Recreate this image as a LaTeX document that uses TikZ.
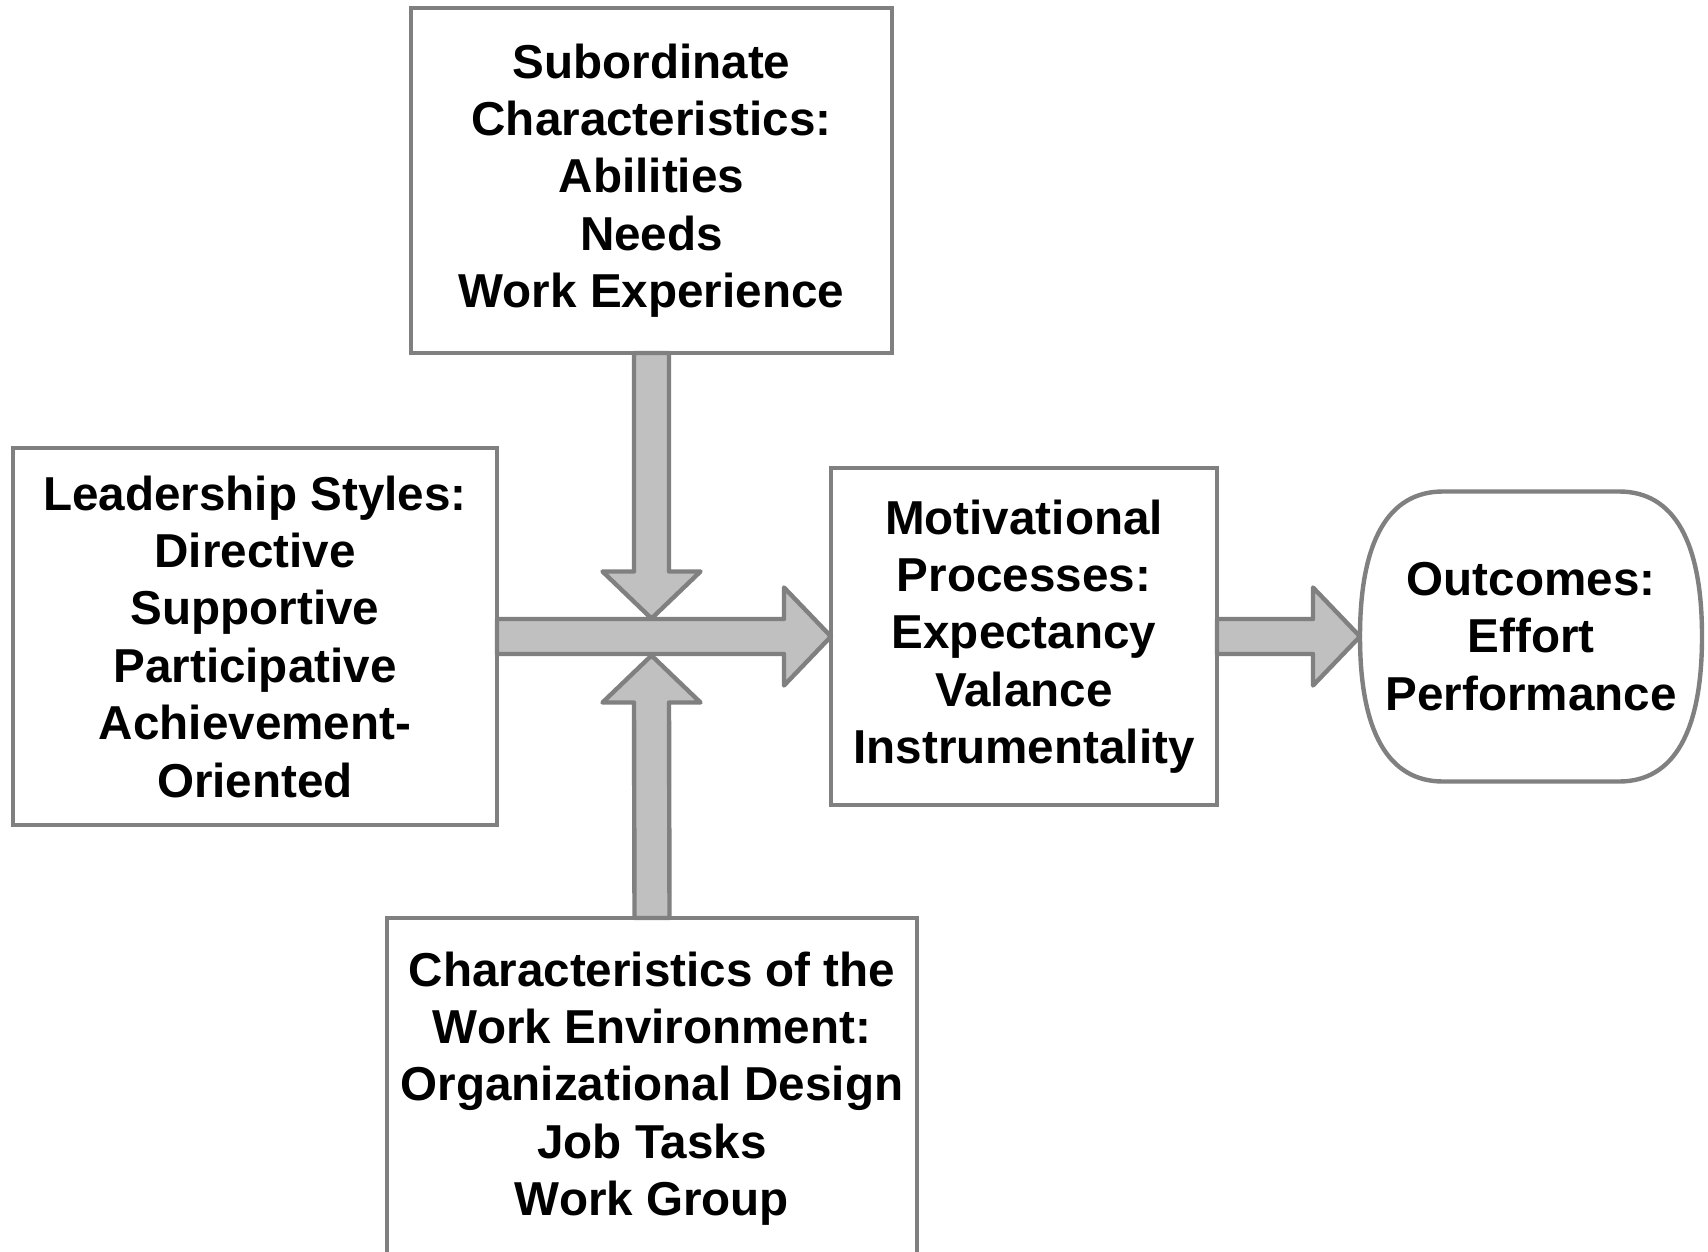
\documentclass[tikz,border=0pt]{standalone}
\usepackage{fontspec}
\setmainfont{Liberation Sans}
\usetikzlibrary{calc}

\definecolor{linegray}{RGB}{128,128,128}
\definecolor{arrowgray}{RGB}{192,192,192}

% half widths and head length of the block arrows
\newcommand{\shaftw}{17.5}
\newcommand{\headw}{49}
\newcommand{\headl}{47}

\begin{document}
\begin{tikzpicture}[
  x=0.5pt, y=-0.5pt,
  every node/.style={font=\bfseries\fontsize{23.8}{28.7}\selectfont, align=center, inner sep=0pt, outer sep=0pt},
  box/.style = {draw=linegray, line width=2.2pt, fill=white},
  roundbox/.style = {draw=linegray, line width=2.2pt},
  fatarrow/.style = {draw=linegray, fill=arrowgray, line width=2.2pt, line join=round}
  ]
	\clip (0,0) rectangle (1708,1252);

	\node[box, minimum width=240.5pt, minimum height=172.5pt] (sub) at (651.5,180.5)
		{Subordinate\\Characteristics:\\Abilities\\Needs\\Work Experience};
	\node[box, minimum width=242pt, minimum height=188.5pt] (lead) at (255,636.5)
		{Leadership Styles:\\Directive\\Supportive\\Participative\\Achievement-\\Oriented};
	\node[box, minimum width=193pt, minimum height=168.5pt] (motiv) at (1024,636.5)
		{Motivational\\Processes:\\Expectancy\\Valance\\Instrumentality};
	\node[box, minimum width=265pt, minimum height=170.5pt] (env) at (652,1088.5)
		{Characteristics of the\\Work Environment:\\Organizational Design\\Job Tasks\\Work Group};
	\node[minimum width=171pt, minimum height=145pt] (out) at (1531,636.5)
		{Outcomes:\\Effort\\Performance};

	% outline of the outcomes box
	\draw[roundbox] ($(out.north west)+(83,0)$) -- ($(out.north east)+(-83,0)$)
		.. controls +(55,0) and +(0,-95) .. (out.east)
		.. controls +(0,95) and +(55,0) .. ($(out.south east)+(-83,0)$)
		-- ($(out.south west)+(83,0)$)
		.. controls +(-55,0) and +(0,95) .. (out.west)
		.. controls +(0,-95) and +(-55,0) .. cycle;

	\coordinate (hub) at (sub.south |- lead.east);
	\coordinate (downtip) at ($(hub)+(0,-18)$);
	\coordinate (uptip) at ($(hub)+(0,19)$);

	% leadership -> motivation
	\draw[fatarrow] ($(lead.east)+(0,-\shaftw)$) -- ($(motiv.west)+(-\headl,-\shaftw)$)
		-- ($(motiv.west)+(-\headl,-\headw)$) -- (motiv.west) -- ($(motiv.west)+(-\headl,\headw)$)
		-- ($(motiv.west)+(-\headl,\shaftw)$) -- ($(lead.east)+(0,\shaftw)$) -- cycle;

	% subordinate -> hub
	\draw[fatarrow] ($(sub.south)+(-\shaftw,0)$) -- ($(downtip)+(-\shaftw,-\headl)$)
		-- ($(downtip)+(-\headw,-\headl)$) -- (downtip) -- ($(downtip)+(\headw,-\headl)$)
		-- ($(downtip)+(\shaftw,-\headl)$) -- ($(sub.south)+(\shaftw,0)$) -- cycle;

	% environment -> hub
	\draw[fatarrow] ($(env.north)+(-\shaftw,0)$) -- ($(uptip)+(-\shaftw,\headl)$)
		-- ($(uptip)+(-\headw,\headl)$) -- (uptip) -- ($(uptip)+(\headw,\headl)$)
		-- ($(uptip)+(\shaftw,\headl)$) -- ($(env.north)+(\shaftw,0)$) -- cycle;

	% motivation -> outcomes
	\draw[fatarrow] ($(motiv.east)+(0,-\shaftw)$) -- ($(out.west)+(-\headl,-\shaftw)$)
		-- ($(out.west)+(-\headl,-\headw)$) -- (out.west) -- ($(out.west)+(-\headl,\headw)$)
		-- ($(out.west)+(-\headl,\shaftw)$) -- ($(motiv.east)+(0,\shaftw)$) -- cycle;

\end{tikzpicture}
\end{document}
